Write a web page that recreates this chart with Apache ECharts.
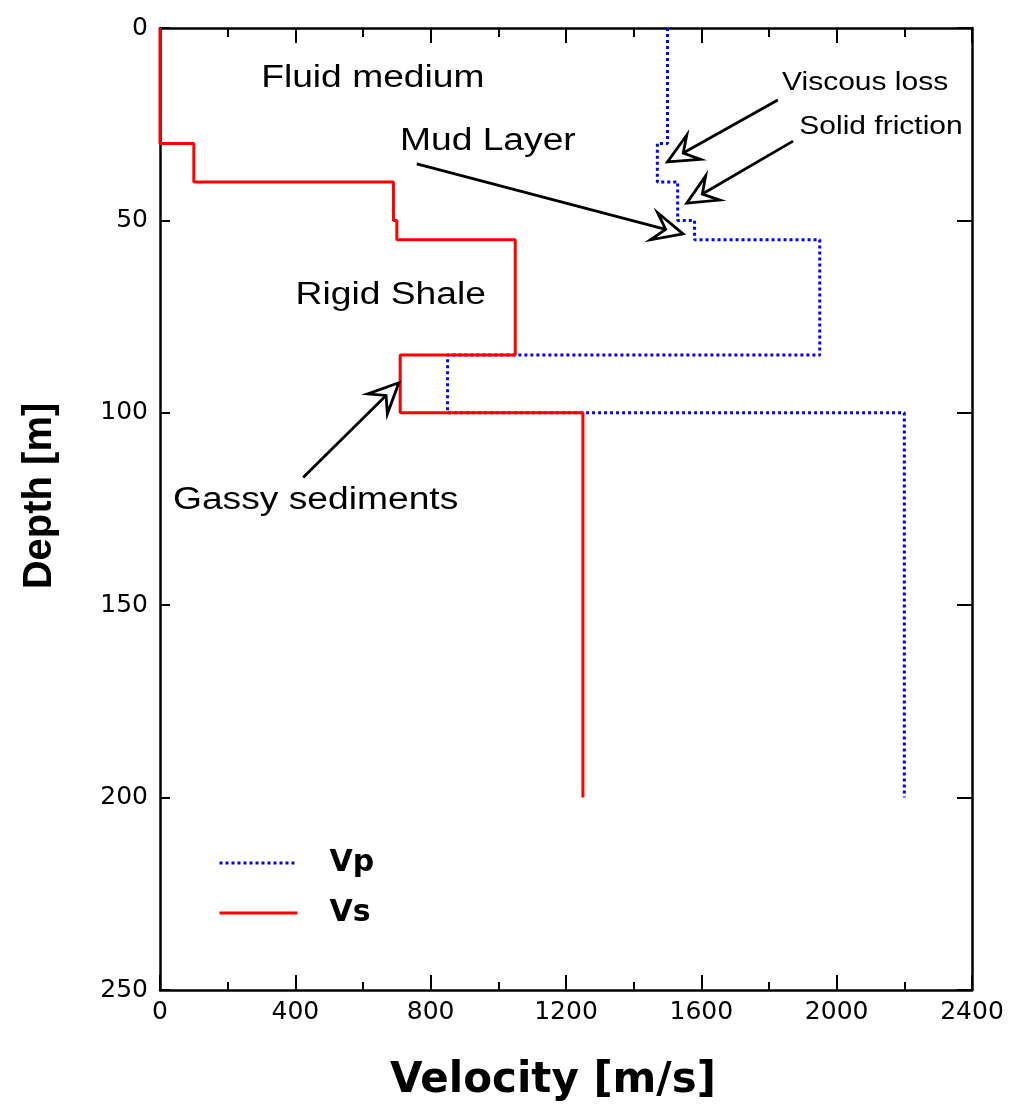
<!DOCTYPE html>
<html>
<head>
<meta charset="utf-8">
<title>Velocity profile</title>
<script src="https://cdn.jsdelivr.net/npm/echarts@6/dist/echarts.min.js"></script>
<style>
  html, body { margin: 0; padding: 0; background: #fff; }
  #chart { width: 1011px; height: 1118px; }
</style>
</head>
<body>
<div id="chart"></div>
<script>
// Layer tops (m) and the velocity in each layer (m/s); last layer ends at depthBottom
const depthTops = [0, 30, 40, 50, 55, 85, 100];
const depthBottom = 200;
const vpValues = [1500, 1470, 1530, 1580, 1950, 850, 2200];
const vsValues = [0, 100, 690, 700, 1050, 710, 1250];

const velocityTicks = [0, 400, 800, 1200, 1600, 2000, 2400];
const depthTicks = [0, 50, 100, 150, 200, 250];

// Text annotations placed in data coordinates (velocity, depth)
const noteTexts = ['Fluid medium', 'Mud Layer', 'Viscous loss', 'Solid friction', 'Rigid Shale', 'Gassy sediments'];
const noteAt = [[629, 13.0], [969, 29.6], [2084, 14.3], [2131, 25.7], [682, 69.6], [460, 122.7]];
const noteSize = [31, 31, 25, 25, 31, 31];

// Arrows: tail and tip in data coordinates
const arrowFrom = [[1826, 18.7], [1871, 29.4], [759, 35.3], [423, 116.8]];
const arrowTo = [[1500, 34.8], [1557, 45.5], [1546, 53.5], [706, 92.2]];

// Turn layered values into a stepped profile: each layer is a vertical run
function profile(values) {
  const pts = [];
  for (let i = 0; i < values.length; i++) {
    const top = depthTops[i];
    const bottom = i + 1 < depthTops.length ? depthTops[i + 1] : depthBottom;
    pts.push([values[i], top]);
    pts.push([values[i], bottom]);
  }
  return pts;
}

const chart = echarts.init(document.getElementById('chart'), null, { renderer: 'canvas' });

const axisLineStyle = { color: '#000', width: 2.5 };
const labelFont = { color: '#000', fontFamily: 'DejaVu Sans', fontSize: 25 };

const vMin = velocityTicks[0], vMax = velocityTicks[velocityTicks.length - 1];
const vStep = velocityTicks[1] - velocityTicks[0];
const dMin = depthTicks[0], dMax = depthTicks[depthTicks.length - 1];
const dStep = depthTicks[1] - depthTicks[0];

chart.setOption({
  animation: false,
  backgroundColor: '#fff',
  grid: { left: 160, right: 39, top: 28, bottom: 128, containLabel: false },
  xAxis: [{
    type: 'value', position: 'bottom', min: vMin, max: vMax, interval: vStep,
    name: 'Velocity [m/s]', nameLocation: 'middle', nameGap: 70,
    nameTextStyle: { fontFamily: 'DejaVu Sans', fontWeight: 'bold', fontSize: 42, color: '#000', padding: [0, 26, 0, 0] },
    axisLine: { show: true, onZero: false, lineStyle: axisLineStyle },
    axisTick: { show: true, inside: true, length: 15, lineStyle: { color: '#000', width: 2 } },
    minorTick: { show: true, splitNumber: 2, length: 8, lineStyle: { color: '#000', width: 2 } },
    axisLabel: Object.assign({ margin: 10, formatter: function (v) { return String(v); } }, labelFont),
    splitLine: { show: false }
  }, {
    type: 'value', position: 'top', min: vMin, max: vMax, interval: vStep,
    axisLine: { show: true, onZero: false, lineStyle: axisLineStyle },
    axisTick: { show: true, inside: true, length: 15, lineStyle: { color: '#000', width: 2 } },
    minorTick: { show: true, splitNumber: 2, length: 9, lineStyle: { color: '#000', width: 2 } },
    axisLabel: { show: false },
    splitLine: { show: false }
  }],
  yAxis: [{
    type: 'value', position: 'left', inverse: true, min: dMin, max: dMax, interval: dStep,
    name: 'Depth [m]', nameLocation: 'middle', nameGap: 100, nameRotate: 90,
    nameTextStyle: { fontFamily: 'Liberation Sans', fontWeight: 'bold', fontSize: 40, color: '#000', padding: [0, 0, 0, 26] },
    axisLine: { show: true, onZero: false, lineStyle: axisLineStyle },
    axisTick: { show: true, inside: true, length: 10, lineStyle: { color: '#000', width: 2 } },
    axisLabel: Object.assign({ margin: 12, formatter: function (v) { return String(v); } }, labelFont),
    splitLine: { show: false }
  }, {
    type: 'value', position: 'right', inverse: true, min: dMin, max: dMax, interval: dStep,
    axisLine: { show: true, onZero: false, lineStyle: axisLineStyle },
    axisTick: { show: true, inside: true, length: 15, lineStyle: { color: '#000', width: 2 } },
    axisLabel: { show: false },
    splitLine: { show: false }
  }],
  legend: {
    orient: 'vertical', left: 213, top: 843,
    itemWidth: 78, itemHeight: 30, itemGap: 20,
    itemStyle: { opacity: 0 },
    lineStyle: { width: 3 },
    textStyle: { fontFamily: 'DejaVu Sans', fontWeight: 'bold', fontSize: 30, lineHeight: 30, color: '#000', padding: [0, 0, 0, 27] },
    data: ['Vp', 'Vs']
  },
  series: [{
    name: 'Vp', type: 'line', xAxisIndex: 0, yAxisIndex: 0,
    data: profile(vpValues), symbol: 'none', showSymbol: false, z: 2,
    lineStyle: { color: '#0000ff', width: 3, type: [3, 3] },
    itemStyle: { color: '#0000ff' }
  }, {
    name: 'Vs', type: 'line', xAxisIndex: 0, yAxisIndex: 0,
    data: profile(vsValues), symbol: 'none', showSymbol: false, z: 3,
    lineStyle: { color: '#ff0000', width: 3 },
    itemStyle: { color: '#ff0000' }
  }]
});

// Annotation layer: labels and open-headed arrows, positioned from data coordinates
function toPx(p) { return chart.convertToPixel({ gridIndex: 0 }, p); }

const graphics = [];
noteTexts.forEach(function (t, i) {
  const p = toPx(noteAt[i]);
  graphics.push({
    type: 'text', x: p[0], y: p[1], scaleX: 1.2, z: 10,
    style: {
      text: t, fill: '#000', fontFamily: 'Liberation Sans', fontSize: noteSize[i],
      align: 'center', verticalAlign: 'middle'
    }
  });
});

arrowFrom.forEach(function (f, i) {
  const a = toPx(f), b = toPx(arrowTo[i]);
  const dx = b[0] - a[0], dy = b[1] - a[1];
  const len = Math.sqrt(dx * dx + dy * dy);
  const ux = dx / len, uy = dy / len;
  const nx = -uy, ny = ux;
  const head = 30, half = 14, notch = 18;
  const pt = function (along, side) { return [b[0] + ux * along + nx * side, b[1] + uy * along + ny * side]; };
  graphics.push({
    type: 'line', z: 10,
    shape: { x1: a[0], y1: a[1], x2: b[0] - ux * notch, y2: b[1] - uy * notch },
    style: { stroke: '#000', lineWidth: 2.8 }
  });
  graphics.push({
    type: 'polygon', z: 11,
    shape: { points: [pt(0, 0), pt(-head, -half), pt(-notch, 0), pt(-head, half)] },
    style: { fill: '#fff', stroke: '#000', lineWidth: 2.8, lineJoin: 'miter' }
  });
});

chart.setOption({ graphic: graphics });
</script>
</body>
</html>
